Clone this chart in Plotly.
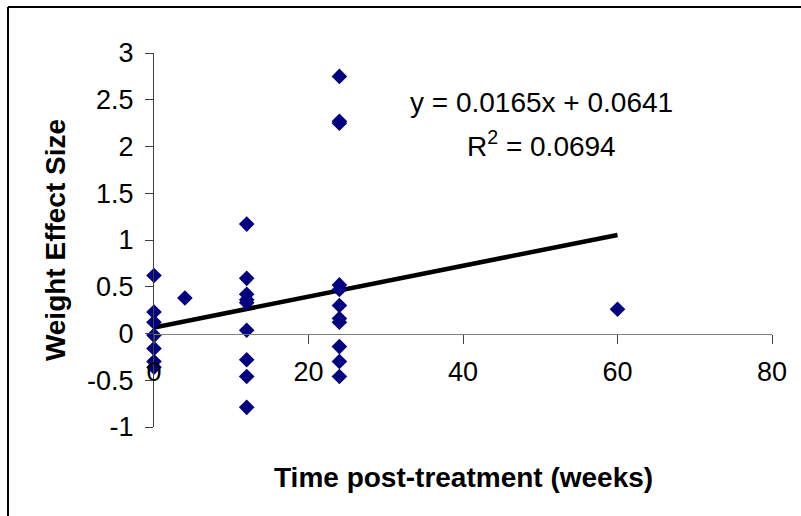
import plotly.graph_objects as go

# Data
time_weeks = [0, 0, 0, 0, 0, 0, 0,
              4,
              12, 12, 12, 12, 12, 12, 12, 12, 12,
              24, 24, 24, 24, 24, 24, 24, 24, 24, 24, 24,
              60]
effect_size = [0.62, 0.23, 0.12, -0.02, -0.16, -0.30, -0.36,
               0.38,
               1.17, 0.59, 0.42, 0.36, 0.035, -0.28, -0.46, -0.79, 0.33,
               2.75, 2.27, 2.25, 0.52, 0.47, 0.30, 0.16, 0.12, -0.14, -0.30, -0.46,
               0.26]

slope = 0.0165
intercept = 0.0641
r_squared = 0.0694
trend_x = [0, 60]
trend_y = [slope * v + intercept for v in trend_x]

x_ticks = [0, 20, 40, 60, 80]
y_ticks = [-1, -0.5, 0, 0.5, 1, 1.5, 2, 2.5, 3]

FONT = "Liberation Sans, Arial, sans-serif"

fig = go.Figure()
fig.add_trace(go.Scatter(
    x=trend_x, y=trend_y, mode="lines",
    line=dict(color="black", width=4.5), showlegend=False))
fig.add_trace(go.Scatter(
    x=time_weeks, y=effect_size, mode="markers", cliponaxis=False,
    marker=dict(symbol="diamond", size=12, color="#000080", line=dict(width=0)),
    showlegend=False, hoverinfo="x+y"))

fig.update_layout(
    width=801, height=516,
    margin=dict(l=154, r=29, t=53, b=89),
    paper_bgcolor="white", plot_bgcolor="white",
    font=dict(family=FONT, size=26, color="black"),
    xaxis=dict(range=[0, 80], tickvals=x_ticks, ticktext=[str(v) for v in x_ticks],
               showgrid=False, zeroline=False, showline=True, linecolor="#808080", linewidth=1.3,
               ticks="outside", ticklen=9, tickcolor="#404040", tickwidth=1,
               anchor="free", position=0.25, ticklabelstandoff=5,
               tickfont=dict(size=27)),
    yaxis=dict(range=[-1, 3], tickvals=y_ticks, ticktext=[f"{v:g}" for v in y_ticks],
               showgrid=False, zeroline=False, showline=True, linecolor="#404040", linewidth=1.3,
               ticks="outside", ticklen=8, tickcolor="#404040", tickwidth=1,
               ticklabelstandoff=6, tickfont=dict(size=27)),
    annotations=[
        dict(text="<b>Weight Effect Size</b>", xref="paper", yref="paper",
             x=-0.16, y=0.5, textangle=-90, showarrow=False,
             font=dict(size=28), xanchor="center", yanchor="middle"),
        dict(text="<b>Time post-treatment (weeks)</b>", xref="paper", yref="paper",
             x=0.5, y=-0.135, showarrow=False, font=dict(size=28),
             xanchor="center", yanchor="middle"),
        dict(text=f"y = {slope}x + {intercept}", xref="x", yref="y",
             x=50.1, y=2.47, showarrow=False, font=dict(size=28),
             xanchor="center", yanchor="middle"),
        dict(text=f"R<sup>2</sup> = {r_squared}", xref="x", yref="y",
             x=50.1, y=2.03, showarrow=False, font=dict(size=28),
             xanchor="center", yanchor="middle"),
    ],
    shapes=[
        dict(type="line", xref="paper", yref="paper",
             x0=-146/618, x1=2.0, y0=1 + 46/374, y1=1 + 46/374,
             line=dict(color="black", width=2)),
        dict(type="line", xref="paper", yref="paper",
             x0=-146/618, x1=-146/618, y0=1 + 46/374, y1=-1.0,
             line=dict(color="black", width=2)),
    ],
)

fig.write_html("out.html")
